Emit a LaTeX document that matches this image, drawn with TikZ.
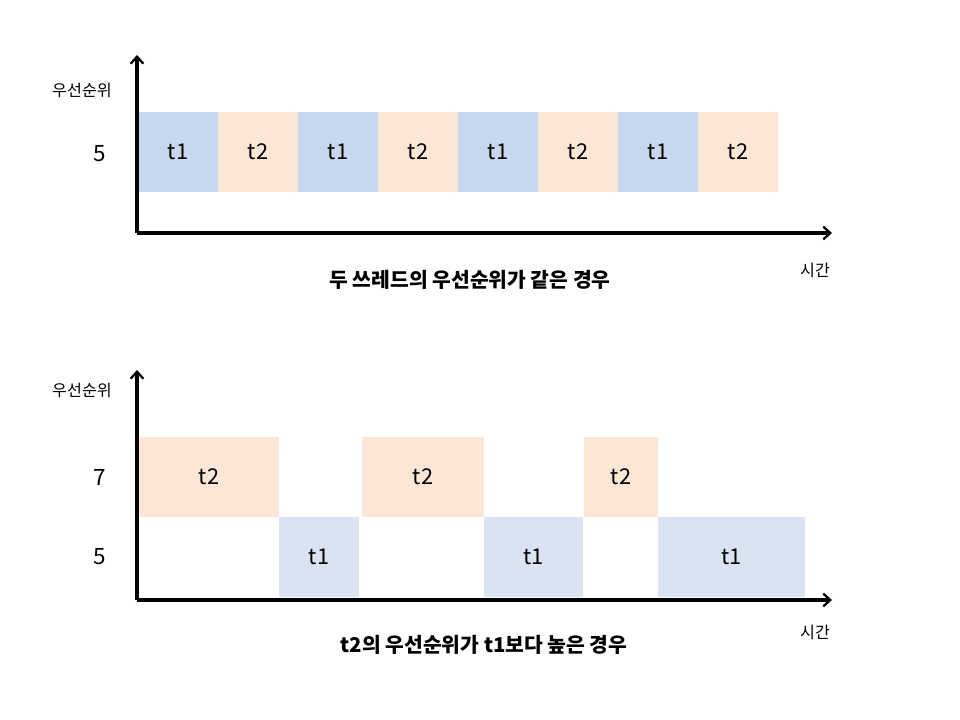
\documentclass[tikz,border=0pt]{standalone}
\usepackage{fontspec}
\setmainfont{Noto Sans CJK KR}
\usetikzlibrary{arrows.meta}
\definecolor{blueA}{HTML}{C6D7EE}
\definecolor{blueB}{HTML}{DAE3F1}
\definecolor{peach}{HTML}{FCE6D6}
\tikzset{
  axis/.style={line width=2.2pt,-{Straight Barb[length=5pt,width=9pt,line width=1.6pt]}},
  slot/.style={inner sep=0pt,minimum height=2cm,font=\fontsize{15.5}{17}\selectfont},
  level/.style={font=\fontsize{16}{18}\selectfont},
  axlabel/.style={font=\fontsize{11.5}{13}\selectfont},
  caption/.style={font=\bfseries\fontsize{14.5}{16}\selectfont}
}
\begin{document}
\begin{tikzpicture}[x=0.025cm,y=-0.025cm]
\useasboundingbox (0,0) rectangle (960,720);
% same priority
\coordinate (o1) at (137,233);
\coordinate (y1) at (137,55);
\coordinate (x1) at (832,233);
\node[slot,fill=blueA,minimum width=2cm] (a1) at (178,152) {t1};
\node[slot,fill=peach,minimum width=2cm] (a2) at (258,152) {t2};
\node[slot,fill=blueA,minimum width=2cm] (a3) at (338,152) {t1};
\node[slot,fill=peach,minimum width=2cm] (a4) at (418,152) {t2};
\node[slot,fill=blueA,minimum width=2cm] (a5) at (498,152) {t1};
\node[slot,fill=peach,minimum width=2cm] (a6) at (578,152) {t2};
\node[slot,fill=blueA,minimum width=2cm] (a7) at (658,152) {t1};
\node[slot,fill=peach,minimum width=2cm] (a8) at (738,152) {t2};
\draw[axis] (o1) -- (y1);
\draw[axis] (o1) -- (x1);
\node[axlabel] (p1) at (82,90) {우선순위};
\node[level] (l1) at (100,154) {5};
\node[axlabel] (s1) at (815,270) {시간};
\node[caption] (c1) at (470,280) {두 쓰레드의 우선순위가 같은 경우};
% t2 higher
\coordinate (o2) at (137,600);
\coordinate (y2) at (137,370);
\coordinate (x2) at (832,600);
\node[slot,fill=peach,minimum width=3.5cm] (b1) at (209,477) {t2};
\node[slot,fill=blueB,minimum width=2cm] (b2) at (319,557) {t1};
\node[slot,fill=peach,minimum width=3.05cm] (b3) at (423,477) {t2};
\node[slot,fill=blueB,minimum width=2.475cm] (b4) at (533.5,557) {t1};
\node[slot,fill=peach,minimum width=1.85cm] (b5) at (621,477) {t2};
\node[slot,fill=blueB,minimum width=3.675cm] (b6) at (731.5,557) {t1};
\draw[axis] (o2) -- (y2);
\draw[axis] (o2) -- (x2);
\node[axlabel] (p2) at (82,390) {우선순위};
\node[level] (l2) at (100,477) {7};
\node[level] (l3) at (100,557) {5};
\node[axlabel] (s2) at (815,632) {시간};
\node[caption] (c2) at (484,645) {t2의 우선순위가 t1보다 높은 경우};
\end{tikzpicture}
\end{document}
